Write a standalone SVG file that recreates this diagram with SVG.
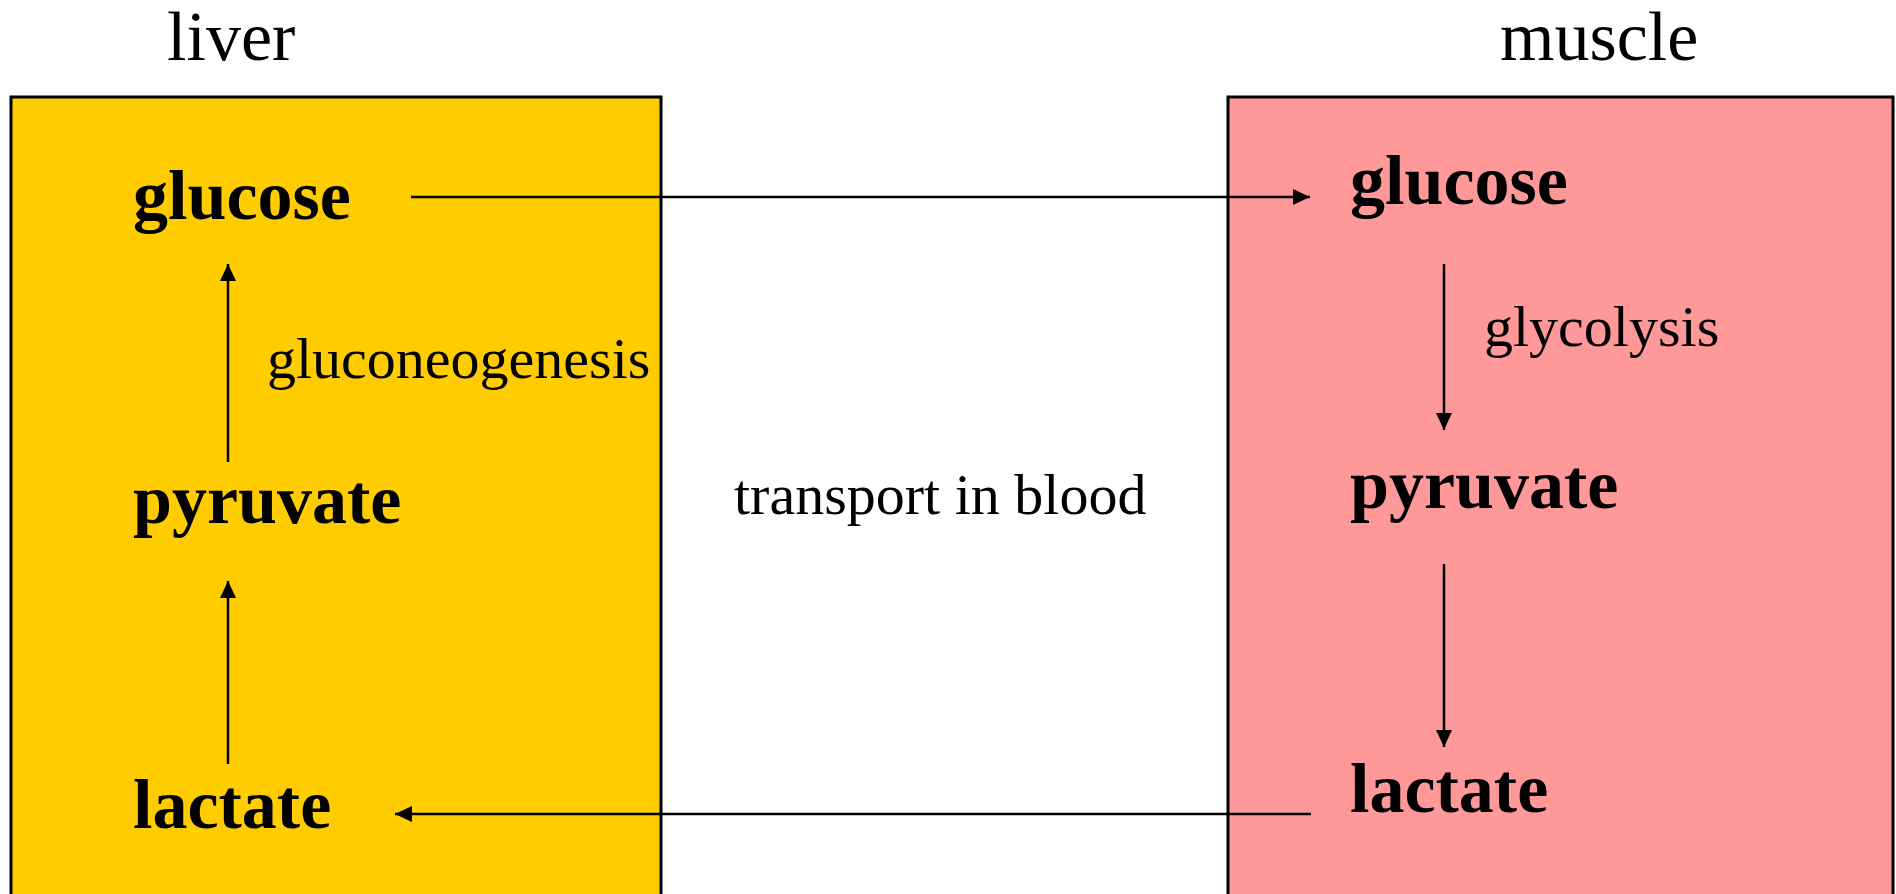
<svg xmlns="http://www.w3.org/2000/svg" width="1896" height="894" viewBox="0 0 1896 894">
<style>
.box{stroke:#000;stroke-width:3}
.lbl{font-family:"Liberation Serif","Times New Roman",serif;font-size:70px;fill:#000}
.met{font-family:"Liberation Serif","Times New Roman",serif;font-size:70px;font-weight:bold;fill:#000}
.proc{font-family:"Liberation Serif","Times New Roman",serif;font-size:58px;fill:#000}
.conn{stroke:#000;stroke-width:2.5;fill:none;marker-end:url(#ah)}
</style>
<defs>
<marker id="ah" markerUnits="userSpaceOnUse" markerWidth="18" markerHeight="16" refX="17" refY="8" orient="auto">
<path d="M0,0 L17,8 L0,16 Z" fill="#000"/>
</marker>
</defs>
<rect width="1896" height="894" fill="#fff"/>
<g id="liver">
<rect class="box" x="11" y="97" width="650" height="820" fill="#FFCC00"/>
<text class="lbl" x="167" y="60">liver</text>
</g>
<g id="muscle">
<rect class="box" x="1228" y="97" width="665" height="820" fill="#FF9999"/>
<text class="lbl" x="1500" y="60">muscle</text>
</g>
<g id="liver-glucose"><text class="met" x="133" y="219">glucose</text></g>
<g id="liver-pyruvate"><text class="met" x="133" y="523">pyruvate</text></g>
<g id="liver-lactate"><text class="met" x="133" y="828">lactate</text></g>
<g id="muscle-glucose"><text class="met" x="1350" y="204">glucose</text></g>
<g id="muscle-pyruvate"><text class="met" x="1350" y="508">pyruvate</text></g>
<g id="muscle-lactate"><text class="met" x="1350" y="812">lactate</text></g>
<g id="labels">
<text class="proc" x="267" y="378">gluconeogenesis</text>
<text class="proc" x="1484" y="346">glycolysis</text>
<text class="proc" x="734" y="514">transport in blood</text>
</g>
<g id="connectors">
<line class="conn" x1="411" y1="197" x2="1310" y2="197"/>
<line class="conn" x1="1444" y1="264" x2="1444" y2="430"/>
<line class="conn" x1="1444" y1="564" x2="1444" y2="747"/>
<line class="conn" x1="1311" y1="814" x2="395" y2="814"/>
<line class="conn" x1="228" y1="764" x2="228" y2="581"/>
<line class="conn" x1="228" y1="462" x2="228" y2="264"/>
</g>
</svg>
